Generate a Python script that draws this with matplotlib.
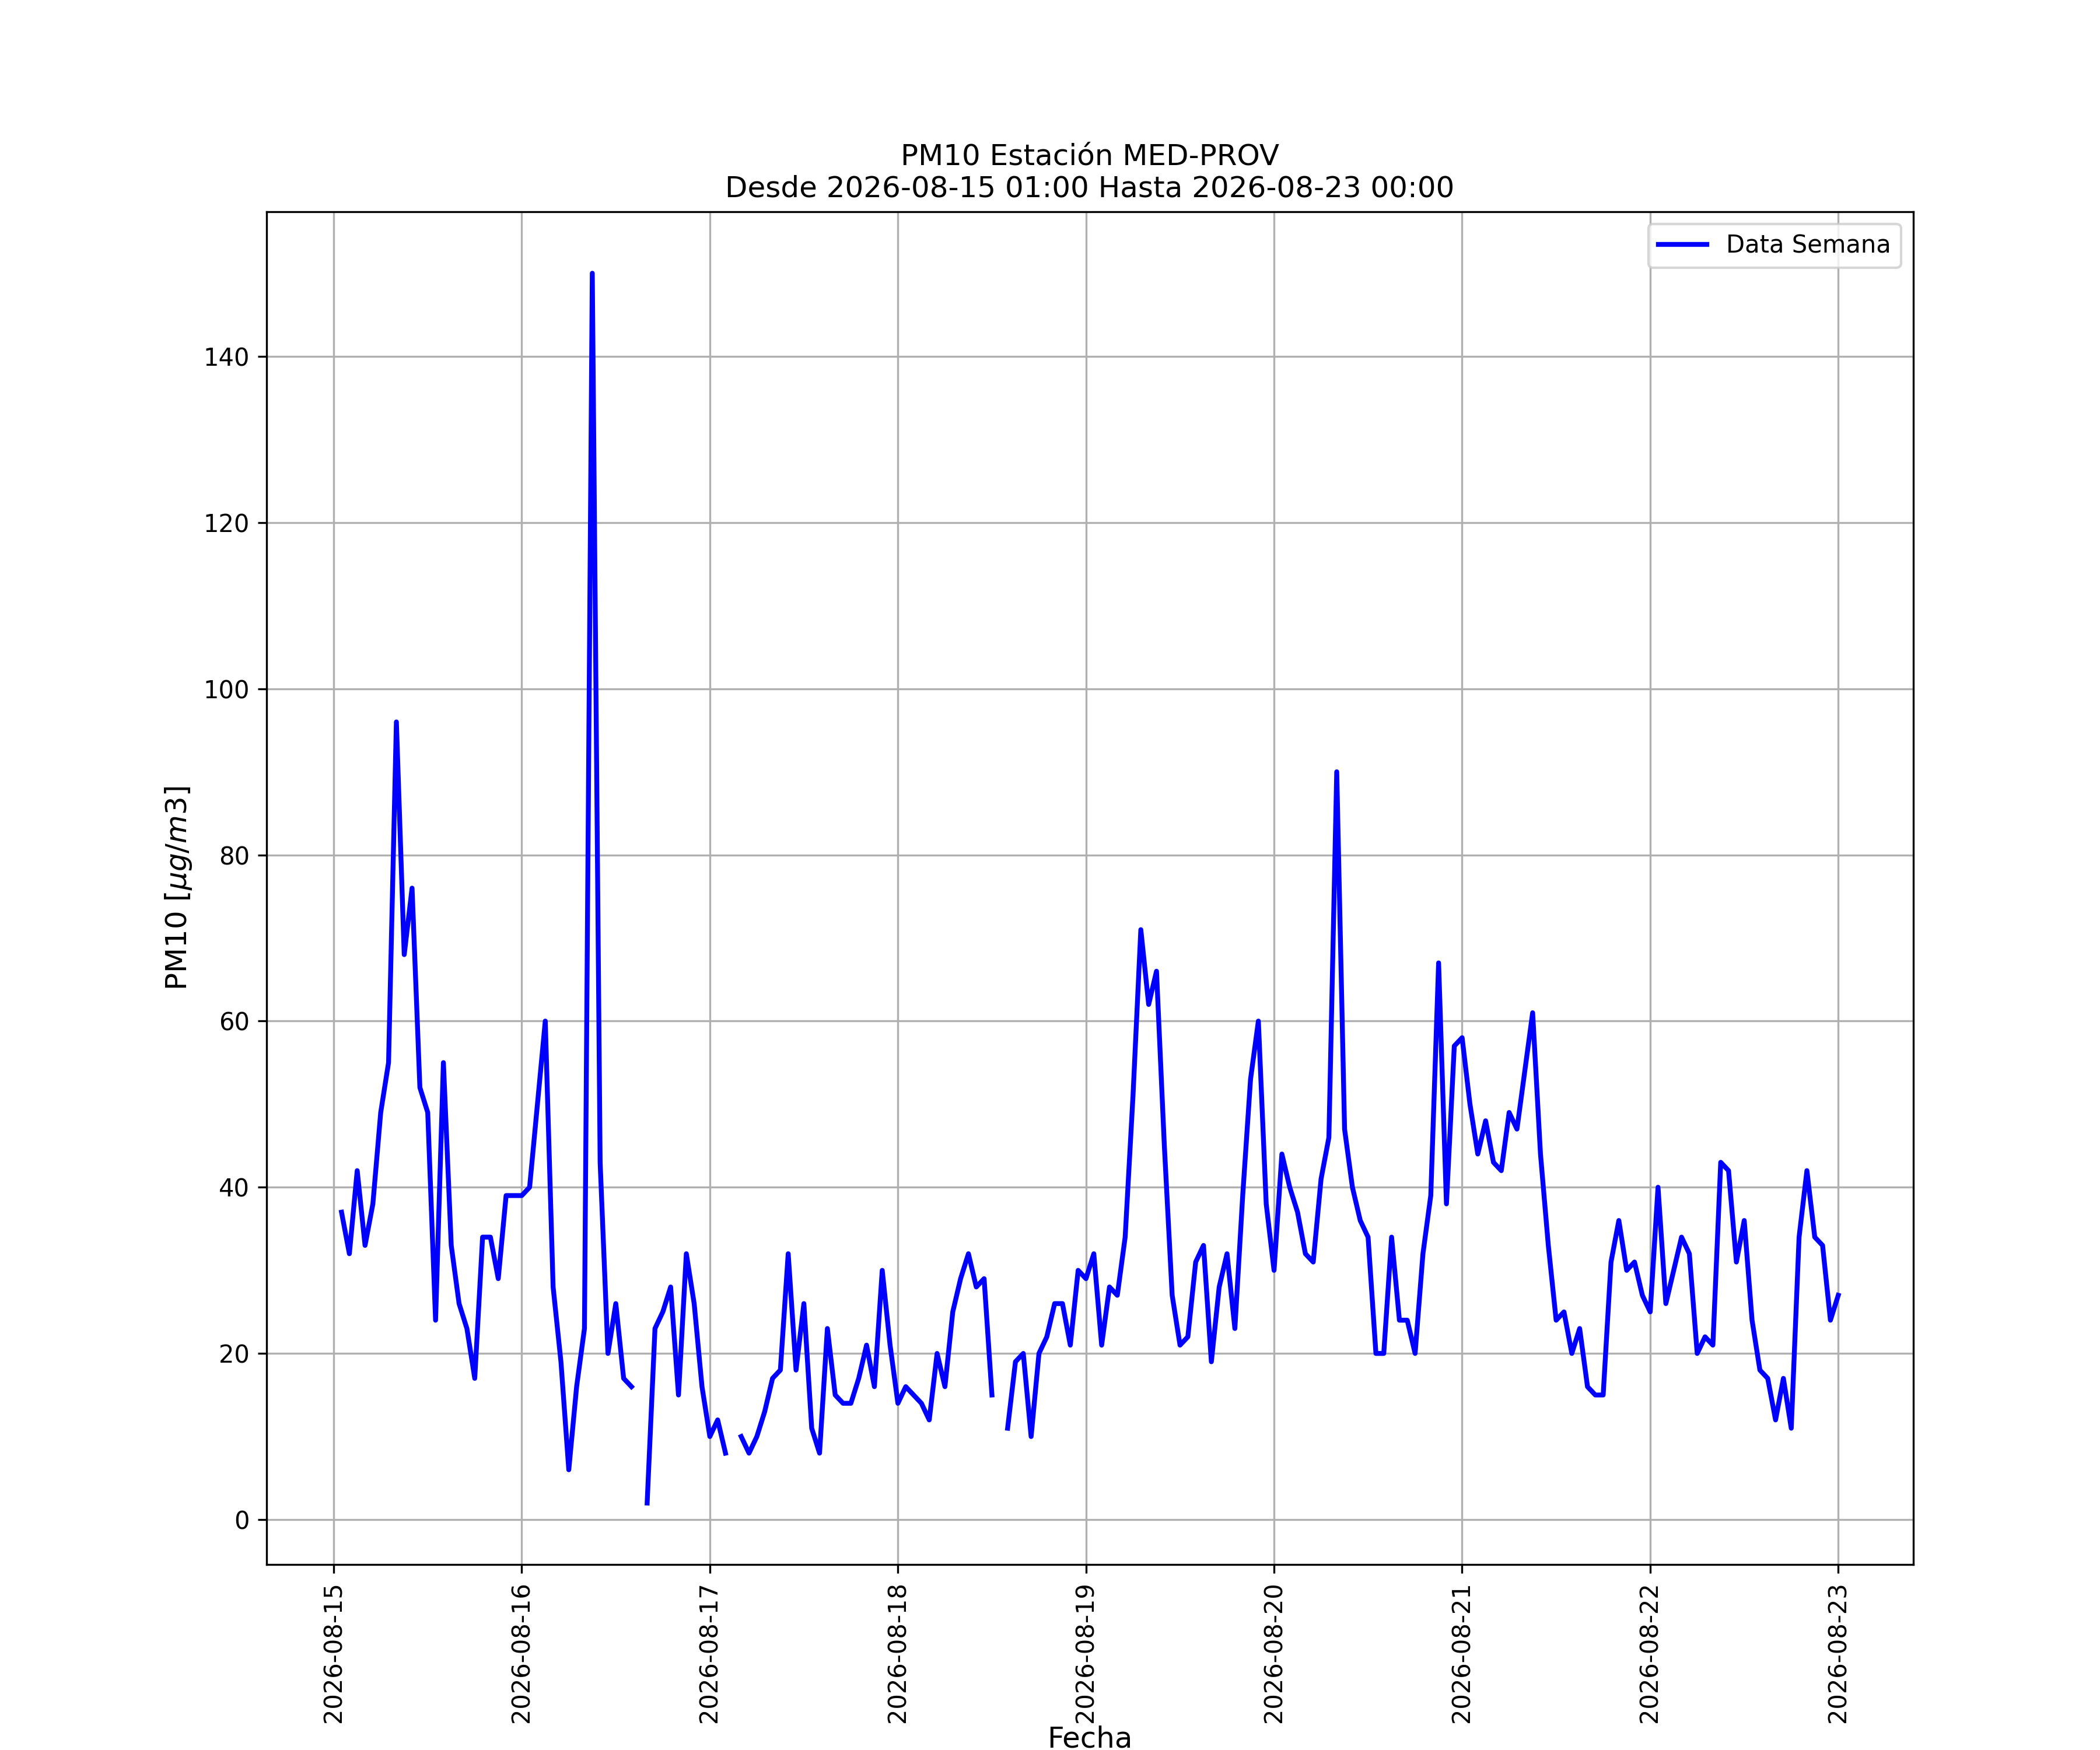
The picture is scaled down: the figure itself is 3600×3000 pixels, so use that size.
import numpy as np
import pandas as pd
import matplotlib
matplotlib.use('Agg')
import matplotlib.pyplot as plt
import matplotlib.dates as mdates

nan = np.nan

# hourly PM10, 2026-08-15 01:00 .. 2026-08-23 00:00, one list per day
day1 = [37, 32, 42, 33, 38, 49, 55, 96, 68, 76, 52, 49, 24, 55, 33, 26, 23, 17, 34, 34, 29, 39, 39, 39]
day2 = [40, 50, 60, 28, 19, 6, 16, 23, 150, 43, 20, 26, 17, 16, nan, 2, 23, 25, 28, 15, 32, 26, 16, 10]
day3 = [12, 8, nan, 10, 8, 10, 13, 17, 18, 32, 18, 26, 11, 8, 23, 15, 14, 14, 17, 21, 16, 30, 21, 14]
day4 = [16, 15, 14, 12, 20, 16, 25, 29, 32, 28, 29, 15, nan, 11, 19, 20, 10, 20, 22, 26, 26, 21, 30, 29]
day5 = [32, 21, 28, 27, 34, 51, 71, 62, 66, 45, 27, 21, 22, 31, 33, 19, 28, 32, 23, 39, 53, 60, 38, 30]
day6 = [44, 40, 37, 32, 31, 41, 46, 90, 47, 40, 36, 34, 20, 20, 34, 24, 24, 20, 32, 39, 67, 38, 57, 58]
day7 = [50, 44, 48, 43, 42, 49, 47, 54, 61, 44, 33, 24, 25, 20, 23, 16, 15, 15, 31, 36, 30, 31, 27, 25]
day8 = [40, 26, 30, 34, 32, 20, 22, 21, 43, 42, 31, 36, 24, 18, 17, 12, 17, 11, 34, 42, 34, 33, 24, 27]

start = '2026-08-15 01:00'
end = '2026-08-23 00:00'

pm10 = day1 + day2 + day3 + day4 + day5 + day6 + day7 + day8
fechas = pd.date_range(start, end, freq='h')

fig = plt.figure(figsize=(12, 10), dpi=300)
ax = fig.add_subplot(111)
fig.subplots_adjust(left=0.127, right=0.911, top=0.879, bottom=0.106)

ax.plot(fechas, pm10, color='blue', linewidth=2, label='Data Semana')

ax.xaxis.set_major_locator(mdates.DayLocator())
ax.xaxis.set_major_formatter(mdates.DateFormatter('%Y-%m-%d'))
plt.setp(ax.get_xticklabels(), rotation=90)

ax.set_title('PM10 Estación MED-PROV\nDesde ' + start + ' Hasta ' + end, fontsize=12)
ax.set_xlabel('Fecha', fontsize=12, labelpad=1)
ax.set_ylabel(r'PM10 [$\mu g/m3$]', fontsize=12)
ax.grid(True)
ax.legend(loc='upper right')

fig.savefig('out.png', dpi=300)
